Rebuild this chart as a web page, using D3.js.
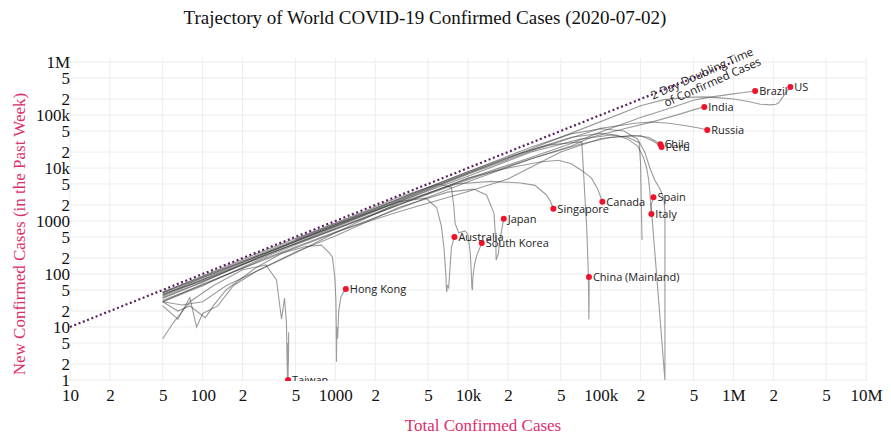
<!DOCTYPE html>
<html>
<head>
<meta charset="utf-8">
<script src="https://cdn.jsdelivr.net/npm/d3@7"></script>
<style>
  body { margin: 0; background: #fff; }
  .axis text { font-family: "Liberation Serif", "Times New Roman", serif; font-size: 17px; fill: #111; }
  .lbl { font-family: "Open Sans", sans-serif; font-size: 11px; fill: #222; }
</style>
</head>
<body>
<svg class="chart" width="891" height="438"></svg>
<script>
var width = 891;
var height = 438;
var plot = {left: 70, right: 867, top: 58, bottom: 381};

// tick values (log axes)
var xTickValues = [10, 20, 50, 100, 200, 500, 1000, 2000, 5000, 10000, 20000, 50000,
  100000, 200000, 500000, 1000000, 2000000, 5000000, 10000000];
var yTickValues = [1, 2, 5, 10, 20, 50, 100, 200, 500, 1000, 2000, 5000, 10000, 20000, 50000,
  100000, 200000, 500000, 1000000];

// 2 day doubling reference line (total, new)
var doubling = [[10, 10], [1000000, 1000000]];

// trajectories: [total confirmed, new confirmed in past week]
var usPath = [[50,40],[100,85],[300,250],[1000,800],[3000,2400],[10000,8000],[30000,23000],[100000,75000],
  [200000,150000],[300000,195000],[450000,215000],[600000,220000],[800000,210000],[1000000,200000],
  [1300000,180000],[1600000,160000],[1900000,155000],[2100000,160000],[2200000,170000],[2350000,215000],
  [2500000,270000],[2690000,338000]];
var brazilPath = [[50,38],[100,78],[300,230],[1000,720],[3000,2100],[10000,6300],[30000,16000],[60000,29000],
  [100000,48000],[200000,90000],[350000,140000],[500000,190000],[650000,215000],[1000000,250000],
  [1200000,265000],[1460000,284000]];
var indiaPath = [[50,30],[100,65],[300,190],[1000,600],[3000,1700],[10000,5500],[30000,15000],[60000,26000],
  [85000,38000],[150000,55000],[250000,75000],[400000,105000],[500000,125000],[604000,142000]];
var russiaPath = [[50,42],[100,75],[300,225],[1000,760],[3000,2300],[10000,7600],[30000,21000],[100000,56000],
  [180000,70000],[240000,74000],[330000,70000],[450000,62000],[550000,57000],[636000,52000]];
var chilePath = [[50,32],[100,62],[300,200],[1000,620],[3000,1500],[10000,3600],[20000,6200],[50000,20000],
  [100000,36000],[170000,41000],[230000,38000],[260000,32000],[282000,28000]];
var peruPath = [[50,36],[100,72],[300,230],[1000,700],[3000,2000],[10000,6000],[30000,15000],[70000,28000],
  [120000,38000],[200000,41000],[250000,32000],[288000,25000]];
var spainPath = [[50,45],[100,90],[300,265],[1000,860],[3000,2600],[10000,8500],[30000,25000],[60000,44000],
  [100000,55000],[150000,50000],[190000,35000],[215000,20000],[235000,10000],[255000,6000],[280000,4000],
  [300000,2600],[305000,1500],[305000,1],[240000,2000],[250000,2800]];
var italyPath = [[50,44],[100,86],[300,255],[1000,840],[3000,2500],[10000,8000],[30000,22000],[60000,38000],
  [100000,45000],[130000,42000],[160000,35000],[190000,26000],[210000,16000],[222000,10000],[230000,6000],
  [235000,3500],[238000,2000],[241000,1350]];
var otherPath = [[50,40],[100,80],[300,250],[1000,800],[3000,2300],[10000,7000],[30000,20000],[70000,35000],
  [120000,42000],[160000,38000],[195000,30000],[200000,12000],[202000,3000],[204000,800],[205000,440]];
var canadaPath = [[50,30],[100,60],[300,215],[1000,700],[3000,2000],[10000,6500],[20000,10000],[35000,13000],
  [48000,14000],[60000,12000],[72000,9000],[85000,6500],[95000,4000],[103000,2300]];
var singaporePath = [[50,25],[65,14],[80,36],[90,10],[100,18],[130,25],[170,60],[250,110],[500,250],
  [1000,600],[3000,2200],[8000,5000],[15000,5600],[25000,5200],[32000,4700],[39000,3100],[42000,2300],
  [44000,1700]];
var japanPath = [[50,30],[70,26],[100,30],[150,60],[250,110],[500,260],[1000,520],[3000,1800],[7000,3500],
  [11000,4000],[13800,3100],[15700,1400],[16200,400],[16300,183],[17000,250],[17200,385],[18000,700],
  [18600,1100]];
var australiaPath = [[50,35],[100,70],[300,240],[1000,850],[3000,2300],[4800,2700],[5800,1800],[6300,800],
  [6600,300],[6800,100],[6900,46],[7000,60],[7150,55],[7300,120],[7500,320],[7900,500]];
var koreaPath = [[50,45],[100,92],[300,285],[1000,920],[3000,2800],[6000,5000],[7500,4300],[7800,2000],
  [8000,900],[8500,600],[9500,650],[10000,550],[10400,250],[10600,100],[10700,55],[10800,50],[10900,90],
  [11200,150],[11600,220],[12200,300],[12700,385]];
var chinaPath = [[500,450],[1000,900],[3000,2600],[10000,8500],[20000,16000],[40000,27000],[60000,30000],
  [72000,31000],[74000,10000],[76000,3000],[78000,1000],[79000,500],[80000,200],[80500,120],[81000,60],
  [81500,14],[81600,30],[81700,20],[81800,60],[81600,88]];
var hongKongPath = [[50,30],[65,20],[80,25],[95,18],[105,15],[120,25],[150,50],[250,130],[400,250],
  [600,330],[785,350],[900,250],[950,210],[990,90],[1010,32],[1016,10],[1020,2.2],[1025,10],[1040,6],
  [1060,20],[1100,37],[1150,45],[1200,52]];
var taiwanPath = [[50,6],[60,12],[80,30],[120,60],[200,120],[300,148],[360,77],[393,14],[414,35],[428,12],
  [432,3],[436,1],[440,5],[443,2],[445,8],[440,1]];

var names = ["US", "Brazil", "India", "Russia", "Chile", "Peru", "Spain", "Italy", "", "Canada",
  "Singapore", "Japan", "Australia", "South Korea", "China (Mainland)", "Hong Kong", "Taiwan"];
var paths = [usPath, brazilPath, indiaPath, russiaPath, chilePath, peruPath, spainPath, italyPath, otherPath,
  canadaPath, singaporePath, japanPath, australiaPath, koreaPath, chinaPath, hongKongPath, taiwanPath];

var series = names.map(function(n, i) { return {name: n, values: paths[i]}; });

var svg = d3.select(".chart");

var x = d3.scaleLog().domain([10, 1e7]).range([70, 866]);
var y = d3.scaleLog().domain([1, 1e6]).range([380, 62]);

function tickFmt(v) {
  var e = Math.log10(v);
  if (Math.abs(e - Math.round(e)) < 1e-9) {
    return v < 10000 ? String(v) : d3.format("~s")(v);
  }
  return String(v).charAt(0);
}

svg.append("defs").append("clipPath").attr("id", "clip")
  .append("rect")
  .attr("x", plot.left).attr("y", plot.top)
  .attr("width", plot.right - plot.left).attr("height", plot.bottom - plot.top);

// gridlines
svg.append("g").selectAll("line").data(xTickValues).enter().append("line")
  .attr("x1", function(d) { return x(d); }).attr("x2", function(d) { return x(d); })
  .attr("y1", plot.top).attr("y2", plot.bottom)
  .attr("stroke", "#ececec").attr("stroke-width", 1);
svg.append("g").selectAll("line").data(yTickValues).enter().append("line")
  .attr("y1", function(d) { return y(d); }).attr("y2", function(d) { return y(d); })
  .attr("x1", plot.left).attr("x2", plot.right)
  .attr("stroke", "#ececec").attr("stroke-width", 1);

// axes
svg.append("g")
  .attr("class", "axis")
  .attr("transform", "translate(0," + plot.bottom + ")")
  .call(d3.axisBottom(x).tickValues(xTickValues).tickSize(0).tickPadding(8).tickFormat(tickFmt))
  .call(function(g) { g.select(".domain").remove(); });

svg.append("g")
  .attr("class", "axis")
  .attr("transform", "translate(" + (plot.left + 1) + ",0)")
  .call(d3.axisLeft(y).tickValues(yTickValues).tickSize(0).tickPadding(1).tickFormat(tickFmt))
  .call(function(g) { g.select(".domain").remove(); });

var line = d3.line()
  .x(function(d) { return x(d[0]); })
  .y(function(d) { return y(d[1]); });

var plotArea = svg.append("g").attr("clip-path", "url(#clip)");

// doubling time line
svg.append("path")
  .datum(doubling)
  .attr("d", line)
  .attr("fill", "none")
  .attr("stroke", "#5a2160")
  .attr("stroke-width", 2.2)
  .attr("stroke-dasharray", "2,2.6");

// annotation along the doubling line (first row sits on the line)
var annX = 702;
var ann = svg.append("g")
  .attr("transform", "translate(" + annX + "," + (y(x.invert(annX)) - 1) + ") rotate(-24)");
ann.append("text").attr("class", "lbl").style("font-size", "11.5px")
  .attr("text-anchor", "middle").attr("y", 4).text("2 Day Doubling Time");
ann.append("text").attr("class", "lbl").style("font-size", "11.5px")
  .attr("text-anchor", "middle").attr("x", 6).attr("y", 16).text("of Confirmed Cases");

// trajectories
plotArea.selectAll(".traj")
  .data(series)
  .enter().append("path")
  .attr("class", "traj")
  .attr("d", function(d) { return line(d.values); })
  .attr("fill", "none")
  .attr("stroke", "#3a3a3a")
  .attr("stroke-opacity", 0.5)
  .attr("stroke-width", 1.1);

// end points + labels
var labeled = series.filter(function(d) { return d.name != ""; });
plotArea.selectAll(".dot")
  .data(labeled)
  .enter().append("circle")
  .attr("class", "dot")
  .attr("cx", function(d) { return x(d.values[d.values.length - 1][0]); })
  .attr("cy", function(d) { return y(d.values[d.values.length - 1][1]); })
  .attr("r", 3)
  .attr("fill", "#f0122d");

plotArea.selectAll(".name")
  .data(labeled)
  .enter().append("text")
  .attr("class", "lbl")
  .attr("x", function(d) { return x(d.values[d.values.length - 1][0]) + 4; })
  .attr("y", function(d) { return y(d.values[d.values.length - 1][1]); })
  .attr("dy", "0.36em")
  .text(function(d) { return d.name; });

// titles
svg.append("text")
  .attr("x", 425).attr("y", 24)
  .attr("text-anchor", "middle")
  .style("font-family", "'Liberation Serif', serif")
  .style("font-size", "19px")
  .attr("fill", "#111")
  .text("Trajectory of World COVID-19 Confirmed Cases (2020-07-02)");

svg.append("text")
  .attr("x", 483).attr("y", 431)
  .attr("text-anchor", "middle")
  .style("font-family", "'Liberation Serif', serif")
  .style("font-size", "17px")
  .attr("fill", "#dc2e6b")
  .text("Total Confirmed Cases");

svg.append("text")
  .attr("transform", "translate(25,234) rotate(-90)")
  .attr("text-anchor", "middle")
  .style("font-family", "'Liberation Serif', serif")
  .style("font-size", "17px")
  .attr("fill", "#dc2e6b")
  .text("New Confirmed Cases (in the Past Week)");
</script>
</body>
</html>
